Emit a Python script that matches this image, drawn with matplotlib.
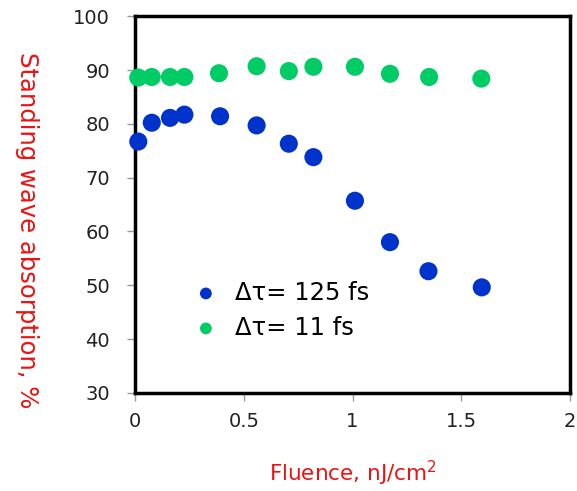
import matplotlib
matplotlib.use("Agg")
import matplotlib.pyplot as plt

# fluence (nJ/cm^2) and standing wave absorption (%)
fluence_125 = [0.015, 0.077, 0.161, 0.227, 0.391, 0.559, 0.707, 0.820, 1.011, 1.172, 1.349, 1.594]
absorb_125 = [76.7, 80.2, 81.1, 81.7, 81.4, 79.7, 76.3, 73.8, 65.7, 58.0, 52.6, 49.6]

fluence_11 = [0.015, 0.077, 0.161, 0.227, 0.386, 0.559, 0.707, 0.820, 1.011, 1.172, 1.352, 1.592]
absorb_11 = [88.6, 88.7, 88.7, 88.7, 89.4, 90.7, 89.8, 90.6, 90.6, 89.3, 88.7, 88.4]

xticks = [0, 0.5, 1, 1.5, 2]
xticklabels = ["0", "0.5", "1", "1.5", "2"]
yticks = [30, 40, 50, 60, 70, 80, 90, 100]

blue = "#0033cc"
green = "#00cc66"

fig = plt.figure(figsize=(5.77, 4.91), dpi=100)
ax = fig.add_axes([0.234, 0.200, 0.754, 0.767])

ax.scatter(fluence_125, absorb_125, s=170, color=blue, edgecolors="none",
           label="\u0394\u03c4= 125 fs", zorder=3, clip_on=False)
ax.scatter(fluence_11, absorb_11, s=170, color=green, edgecolors="none",
           label="\u0394\u03c4= 11 fs", zorder=3, clip_on=False)

ax.set_xlim(0, 2)
ax.set_ylim(30, 100)
ax.set_xticks(xticks)
ax.set_xticklabels(xticklabels)
ax.set_yticks(yticks)

for sp in ax.spines.values():
    sp.set_linewidth(2.5)
    sp.set_color("black")

ax.tick_params(axis="both", direction="out", length=6, width=1, color="#999999",
               labelsize=14, labelcolor="#222222")
ax.tick_params(axis="y", pad=12)
ax.tick_params(axis="x", pad=8)

ax.set_xlabel("Fluence, nJ/cm$^{2}$", color="#ee1111", fontsize=15.5, labelpad=20)
ax.set_ylabel("Standing wave absorption, %", color="#ee1111", fontsize=17.5,
              rotation=270)
ax.yaxis.set_label_coords(-0.277, 0.432)

leg = ax.legend(loc="lower left", bbox_to_anchor=(0.107, 0.115), frameon=False,
                fontsize=17.5, markerscale=0.65, handlelength=1.2,
                handletextpad=0.6, labelspacing=0.45, borderaxespad=0)

fig.savefig("out.png", dpi=100)
